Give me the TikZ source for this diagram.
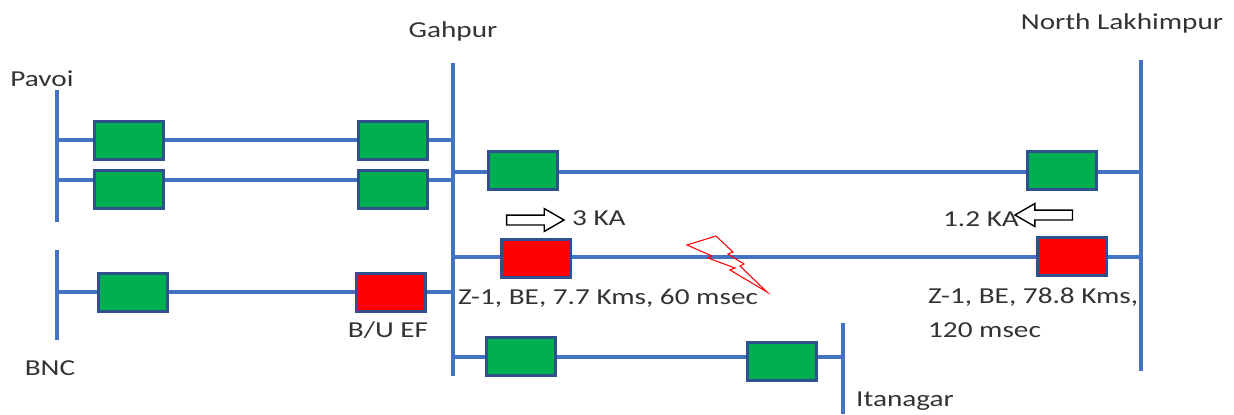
\documentclass[tikz,border=0pt]{standalone}
\usepackage{fontspec}
\setmainfont{Carlito}[FakeStretch=1.28]
\usepackage{tikz}
\usetikzlibrary{positioning,arrows.meta,shapes.arrows}
\definecolor{busblue}{HTML}{4472C4}
\definecolor{rimblue}{HTML}{2F528F}
\definecolor{cbgreen}{HTML}{00B050}
\tikzset{
  bus/.style={draw=busblue, line width=2.2pt},
  feeder/.style={draw=busblue, line width=1.8pt},
  breaker/.style={rectangle, draw=rimblue, line width=1.7pt, minimum width=1.38cm, minimum height=0.76cm, inner sep=0pt},
  closed/.style={fill=cbgreen},
  tripped/.style={fill=red},
  lbl/.style={font=\fontsize{13}{16}\selectfont, text=black!80, inner sep=1pt},
  flow/.style={single arrow, draw=black, fill=white, line width=0.8pt, minimum height=1.15cm, inner xsep=0pt, inner ysep=0.085cm, single arrow head extend=0.13cm, single arrow tip angle=60},
}

\begin{document}
\begin{tikzpicture}[x=0.02cm, y=-0.02cm]
  \useasboundingbox (0,0) rectangle (1234,414);

  % bus bars
  \coordinate (pavoiT) at (57,90);   \coordinate (pavoiB) at (57,222);
  \coordinate (bncT) at (57,250);    \coordinate (bncB) at (57,340);
  \coordinate (gahT) at (453,63);    \coordinate (gahB) at (453,376);
  \coordinate (nlpT) at (1141,60);   \coordinate (nlpB) at (1141,371);
  \coordinate (itaT) at (843,323);   \coordinate (itaB) at (843,414);
  \draw[bus] (pavoiT) -- (pavoiB);
  \draw[bus] (bncT) -- (bncB);
  \draw[bus] (gahT) -- (gahB);
  \draw[bus] (nlpT) -- (nlpB);
  \draw[bus] (itaT) -- (itaB);

  \node[lbl] (pavoi) at (42,79) {Pavoi};
  \node[lbl] (bnc) at (50,368) {BNC};
  \node[lbl] (gahpur) at (453,31) {Gahpur};
  \node[lbl] (nlp) at (1122,23) {North Lakhimpur};
  \node[lbl] (itanagar) at (905,401) {Itanagar};

  % feeders between bus bars
  \coordinate (pv1) at (57,140);  \coordinate (gp1) at (453,140);
  \coordinate (pv2) at (57,180);  \coordinate (gp2) at (453,180);
  \coordinate (gn1) at (453,172); \coordinate (nl1) at (1141,172);
  \coordinate (gn2) at (453,257); \coordinate (nl2) at (1141,257);
  \coordinate (bn1) at (57,292);  \coordinate (gb1) at (453,292);
  \coordinate (gi1) at (453,357); \coordinate (it1) at (843,357);
  \draw[feeder] (pv1) -- (gp1);
  \draw[feeder] (pv2) -- (gp2);
  \draw[feeder] (gn1) -- (nl1);
  \draw[feeder] (gn2) -- (nl2);
  \draw[feeder] (bn1) -- (gb1);
  \draw[feeder] (gi1) -- (it1);

  % breakers
  \node[breaker, closed] (cbA1) at (129,140) {};
  \node[breaker, closed] (cbA2) at (393,140) {};
  \node[breaker, closed] (cbB1) at (129,189) {};
  \node[breaker, closed] (cbB2) at (393,189) {};
  \node[breaker, closed] (cbC1) at (523,170) {};
  \node[breaker, closed] (cbC2) at (1062,170) {};
  \node[breaker, tripped] (cbD1) at (536,258) {};
  \node[breaker, tripped] (cbD2) at (1072,256) {};
  \node[breaker, closed] (cbE1) at (133,292) {};
  \node[breaker, tripped] (cbE2) at (391,292) {};
  \node[breaker, closed] (cbF1) at (521,356) {};
  \node[breaker, closed] (cbF2) at (782,361) {};

  % fault currents
  \node[flow] (flowL) at (531,220) {};
  \node[lbl, anchor=west] (iL) at (570,218) {3 KA};
  \node[flow, shape border rotate=180] (flowR) at (1048,215) {};
  \node[lbl, anchor=east] (iR) at (1021,219) {1.2 KA};

  % fault
  \draw[red, line width=0.6pt]
    (687,245) -- (716,236) -- (733,252) -- (728,254) -- (744,264) -- (740,266)
    -- (767,292) -- (730,270) -- (735,268) -- (708,258) -- (712,256) -- cycle;

  % relay settings
  \node[lbl, anchor=west] (zsL) at (456,298) {Z-1, BE, 7.7 Kms, 60 msec};
  \node[lbl, anchor=west] (zsR) at (926,297) {Z-1, BE, 78.8 Kms,};
  \node[lbl, anchor=west] (zsR2) at (926,330) {120 msec};
  \node[lbl] (bu) at (388,330) {B/U EF};
\end{tikzpicture}
\end{document}
